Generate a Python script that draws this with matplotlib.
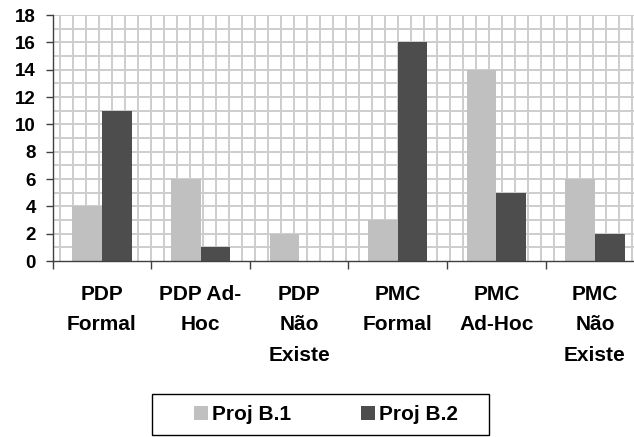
import numpy as np
import matplotlib
matplotlib.use("Agg")
import matplotlib.pyplot as plt
from matplotlib.patches import Rectangle

categories = ["PDP\nFormal", "PDP Ad-\nHoc", "PDP\nNão\nExiste",
              "PMC\nFormal", "PMC\nAd-Hoc", "PMC\nNão\nExiste"]
series_names = ["Proj B.1", "Proj B.2"]
proj_b1 = [4, 6, 2, 3, 14, 6]
proj_b2 = [11, 1, 0, 16, 5, 2]
y_ticks = list(range(0, 19, 2))

light = "#c0c0c0"
dark = "#4d4d4d"
grid_col = "#cdcdcd"

plt.rcParams["font.family"] = ["Liberation Sans", "DejaVu Sans"]
plt.rcParams["font.weight"] = "bold"

fig = plt.figure(figsize=(6.34, 4.37), dpi=100)
W, H = 634, 437
x0, x1 = 52.7, 644.3
y_top, y_bot = 15, 261
ax = fig.add_axes([x0 / W, 1 - y_bot / H, (x1 - x0) / W, (y_bot - y_top) / H])

n = len(categories)
x = np.arange(n)
ax.set_xlim(-0.5, n - 0.5)
ax.set_ylim(0, 18)

# plot-area grid pattern
for yv in range(1, 19):
    ax.axhline(yv, color=grid_col, lw=1.4, zorder=0)
step = 13.0 / 98.6
for xv in np.arange(-0.5 + 7.3 / 98.6, n - 0.5, step):
    ax.axvline(xv, color=grid_col, lw=1.4, zorder=0)

w = 0.3
ax.bar(x - w / 2, proj_b1, width=w, color=light, zorder=2, label=series_names[0])
ax.bar(x + w / 2, proj_b2, width=w, color=dark, zorder=2, label=series_names[1])

for s in ["top", "right"]:
    ax.spines[s].set_visible(False)
for s in ["left", "bottom"]:
    ax.spines[s].set_color("#404040")
    ax.spines[s].set_linewidth(1.0)

ax.set_yticks(y_ticks)
ax.set_yticklabels([str(v) for v in y_ticks], fontsize=13.5, fontweight="bold")
ax.tick_params(axis="y", length=5, width=1, color="#404040", pad=7)

ax.set_xticks(x)
ax.set_xticklabels(categories, fontsize=15, fontweight="bold", linespacing=1.78)
ax.tick_params(axis="x", which="major", length=0, pad=17)
ax.set_xticks(np.arange(-0.5, n, 1.0), minor=True)
ax.tick_params(axis="x", which="minor", length=6, width=1, color="#404040")

# legend box
fig.patches.append(Rectangle((152 / W, 1 - 435 / H), (489 - 152) / W, 41 / H,
                             transform=fig.transFigure, fill=False,
                             edgecolor="black", lw=1.0))
lfs = 15
fs = lfs * 100 / 72
leg = fig.legend(loc="center left", bbox_to_anchor=(184 / W, 1 - 415 / H),
                 ncol=2, frameon=False,
                 prop={"weight": "bold", "size": lfs},
                 handlelength=14 / fs, handleheight=14 / fs,
                 handletextpad=4 / fs, columnspacing=69 / fs, borderpad=0)

fig.savefig("out.png", dpi=100)
